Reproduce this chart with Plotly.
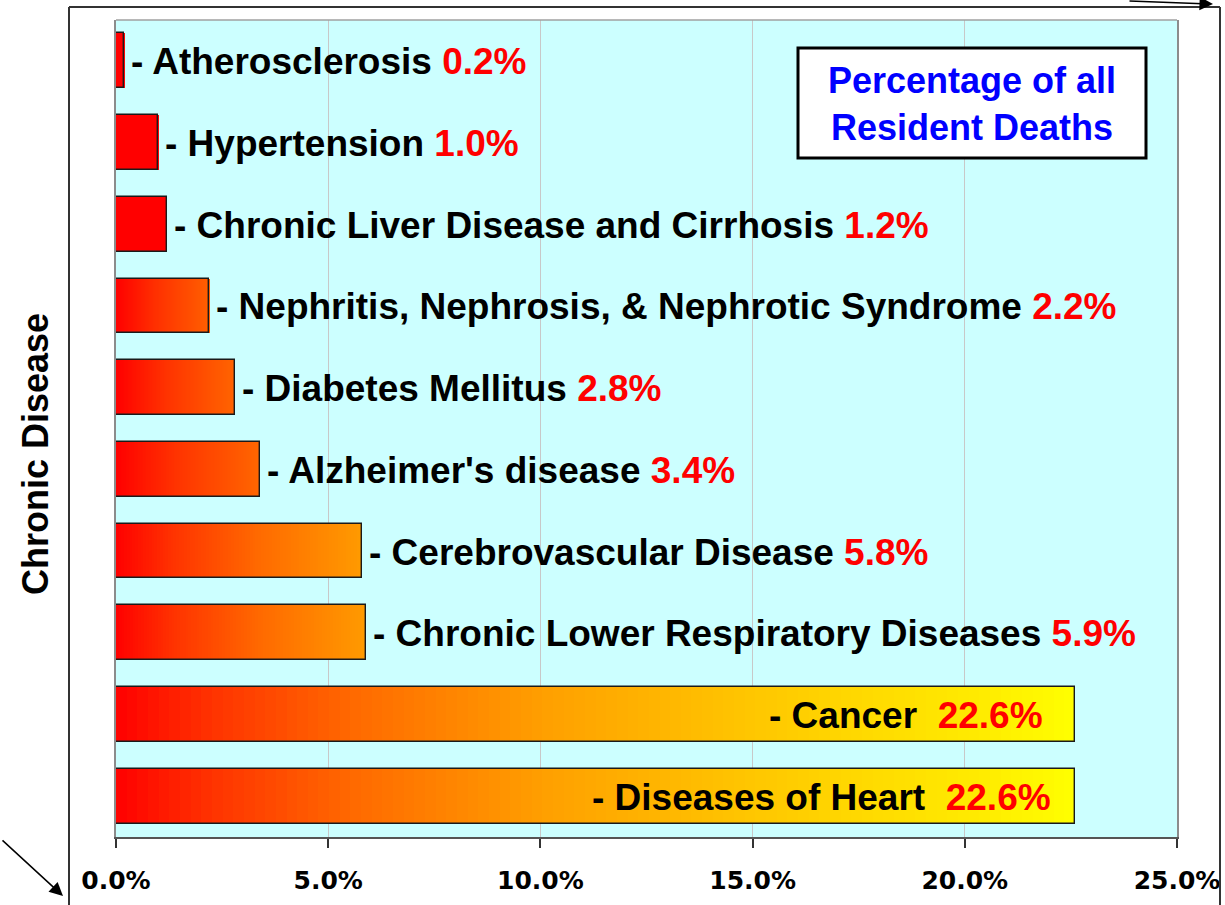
import plotly.graph_objects as go

CAUSES = [
    "Atherosclerosis",
    "Hypertension",
    "Chronic Liver Disease and Cirrhosis",
    "Nephritis, Nephrosis, & Nephrotic Syndrome",
    "Diabetes Mellitus",
    "Alzheimer's disease",
    "Cerebrovascular Disease",
    "Chronic Lower Respiratory Diseases",
    "Cancer",
    "Diseases of Heart",
]
PERCENT = [0.2, 1.0, 1.2, 2.2, 2.8, 3.4, 5.8, 5.9, 22.6, 22.6]
X_TICKS = [0, 5, 10, 15, 20, 25]
X_TICK_LABELS = ["0.0%", "5.0%", "10.0%", "15.0%", "20.0%", "25.0%"]

# styling
FONT = "Liberation Sans, Arial, sans-serif"
GRADIENT = [(0.0, (255, 0, 0)), (0.1, (255, 51, 0)), (0.25, (255, 106, 0)),
            (0.45, (255, 160, 0)), (0.6, (255, 187, 0)), (0.75, (255, 213, 0)),
            (0.9, (255, 235, 0)), (1.0, (255, 255, 0))]
REACH = [0, 0, 0, 0.22, 0.235, 0.24, 0.43, 0.43, 1.0, 1.0]  # how far along GRADIENT each bar goes
INSIDE = [False] * 8 + [True, True]
INSIDE_SHIFT = {8: -30, 9: -22}
N_SEG = 90
BAR_W = 0.67

# plot area in pixels (for placing things outside the axes)
W, H = 1225, 905
L, R, T, B = 116, 1177, 20, 837


def px_x(p):
    return (p - L) / (R - L)


def px_y(p):
    return (B - p) / (B - T)


def grad_color(t):
    for (t0, c0), (t1, c1) in zip(GRADIENT[:-1], GRADIENT[1:]):
        if t <= t1:
            f = 0 if t1 == t0 else (t - t0) / (t1 - t0)
            c = [round(a + (b - a) * f) for a, b in zip(c0, c1)]
            return "rgb(%d,%d,%d)" % tuple(c)
    return "rgb(%d,%d,%d)" % GRADIENT[-1][1]


fig = go.Figure()

# gradient fill: overlapping segments, each one runs to the bar end
for k in range(N_SEG):
    f0 = k / N_SEG
    fig.add_trace(go.Bar(
        y=CAUSES,
        x=[v * (1 - f0) for v in PERCENT],
        base=[v * f0 for v in PERCENT],
        orientation="h",
        width=BAR_W,
        marker=dict(color=[grad_color((k + 0.5) / N_SEG * r) for r in REACH],
                    line=dict(width=0)),
        hoverinfo="skip",
        showlegend=False,
    ))

# outline
fig.add_trace(go.Bar(
    y=CAUSES,
    x=PERCENT,
    orientation="h",
    width=BAR_W,
    marker=dict(color="rgba(0,0,0,0)", line=dict(color="#1a1a1a", width=1.4)),
    hoverinfo="skip",
    showlegend=False,
))

annotations = []
for i, (name, v) in enumerate(zip(CAUSES, PERCENT)):
    if INSIDE[i]:
        text = "<b>- %s&nbsp;&nbsp;<span style='color:#ff0000'>%.1f%%</span></b>" % (name, v)
        annotations.append(dict(x=v, y=name, xref="x", yref="y", text=text,
                                showarrow=False, xanchor="right", yanchor="middle",
                                xshift=INSIDE_SHIFT[i], yshift=-1,
                                font=dict(family=FONT, size=37, color="black")))
    else:
        text = "<b>- %s <span style='color:#ff0000'>%.1f%%</span></b>" % (name, v)
        annotations.append(dict(x=v, y=name, xref="x", yref="y", text=text,
                                showarrow=False, xanchor="left", yanchor="middle",
                                xshift=5, yshift=-1,
                                font=dict(family=FONT, size=37, color="black")))

# legend-like box text
annotations.append(dict(
    x=px_x(972), y=px_y(104), xref="paper", yref="paper",
    xanchor="center", yanchor="middle",
    text="<b>Percentage of all<br>Resident Deaths</b>", showarrow=False,
    font=dict(family=FONT, size=36, color="#0000ff"),
))

# y axis title
annotations.append(dict(
    x=px_x(35), y=px_y(454), xref="paper", yref="paper",
    xanchor="center", yanchor="middle",
    text="<b>Chronic Disease</b>", textangle=-90, showarrow=False,
    font=dict(family=FONT, size=36, color="black"),
))

# corner arrows
annotations.append(dict(
    x=px_x(63), y=px_y(896), xref="paper", yref="paper", text="",
    showarrow=True, ax=-62, ay=-57, arrowhead=2, arrowsize=1.8,
    arrowwidth=1.5, arrowcolor="black",
))
annotations.append(dict(
    x=px_x(1213), y=px_y(4), xref="paper", yref="paper", text="",
    showarrow=True, ax=-85, ay=-3, arrowhead=2, arrowsize=1.8,
    arrowwidth=1.5, arrowcolor="black",
))

frame = dict(color="#333333", width=2)
shapes = [
    # outer frame (left, top, right; bottom is off the page)
    dict(type="line", xref="paper", yref="paper",
         x0=px_x(69), x1=px_x(69), y0=px_y(H), y1=px_y(7), line=frame),
    dict(type="line", xref="paper", yref="paper",
         x0=px_x(69), x1=px_x(1220), y0=px_y(7), y1=px_y(7), line=frame),
    dict(type="line", xref="paper", yref="paper",
         x0=px_x(1220), x1=px_x(1220), y0=px_y(H), y1=px_y(7), line=frame),
    # top border of plot area
    dict(type="line", xref="paper", yref="paper", x0=0, x1=1, y0=1, y1=1,
         line=dict(color="#a0a0a0", width=1.5)),
    # text box
    dict(type="rect", xref="paper", yref="paper",
         x0=px_x(798), x1=px_x(1146), y0=px_y(158), y1=px_y(48),
         line=dict(color="black", width=3), fillcolor="white", layer="above"),
]

fig.update_layout(
    width=W,
    height=H,
    margin=dict(l=L, r=W - R, t=T, b=H - B),
    paper_bgcolor="white",
    plot_bgcolor="#ccffff",
    barmode="overlay",
    bargap=0,
    showlegend=False,
    annotations=annotations,
    shapes=shapes,
    xaxis=dict(
        automargin=False,
        range=[0, 25],
        tickvals=X_TICKS,
        ticktext=X_TICK_LABELS,
        showgrid=True,
        gridcolor="#c8c8c8",
        gridwidth=1,
        zeroline=False,
        showline=True,
        linecolor="#555555",
        linewidth=1.5,
        ticks="outside",
        ticklen=9,
        tickcolor="#333333",
        tickwidth=1.5,
        ticklabelstandoff=11,
        tickfont=dict(family="DejaVu Sans, Verdana, sans-serif", size=25,
                      color="black", weight="bold"),
    ),
    yaxis=dict(
        automargin=False,
        autorange=False,
        range=[len(CAUSES) - 0.5, -0.5],
        showticklabels=False,
        showgrid=False,
        zeroline=False,
        showline=True,
        mirror=True,
        linecolor="#8c8c8c",
        linewidth=1.5,
        ticks="",
    ),
)

fig.write_html(
    "out.html",
    config={"displayModeBar": False},
    post_script="document.body.style.margin='0';"
                "document.documentElement.style.overflow='hidden';",
)
